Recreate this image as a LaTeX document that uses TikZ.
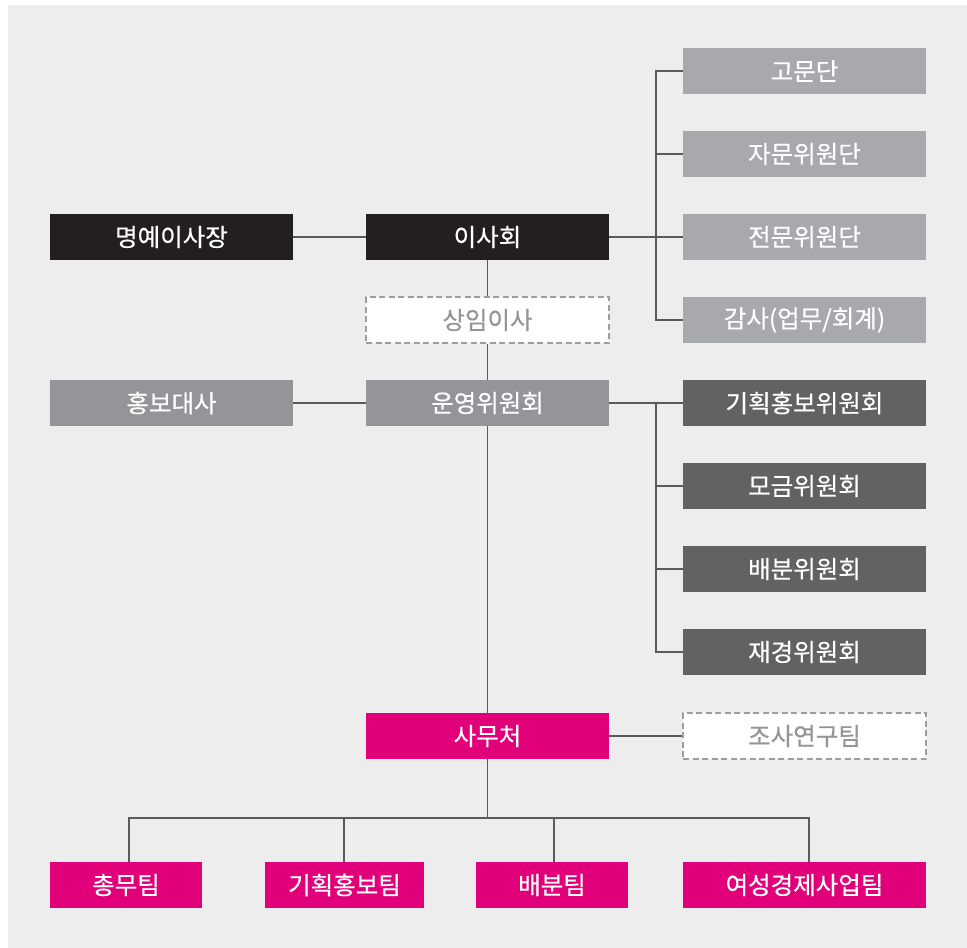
\documentclass[tikz,border=0pt]{standalone}
\usepackage{fontspec}
\newfontfamily\kr[FakeBold=0.5]{Noto Sans CJK KR}
\definecolor{bgc}{HTML}{EDEDED}
\definecolor{blk}{HTML}{231F20}
\definecolor{midg}{HTML}{939598}
\definecolor{ltg}{HTML}{A7A9AC}
\definecolor{dkg}{HTML}{626264}
\definecolor{mag}{HTML}{E2007A}
\definecolor{lnc}{HTML}{5A5A5A}
\definecolor{dsh}{HTML}{9D9D9D}
\pgfdeclarelayer{bglayer}
\pgfdeclarelayer{linelayer}
\pgfsetlayers{bglayer,linelayer,main}
\tikzset{
  x=1pt, y=-1pt,
  bx/.style={minimum width=243pt, minimum height=46pt, inner sep=0pt, text=white, font=\kr\fontsize{24.5}{26}\selectfont, anchor=center},
  blkbox/.style={bx, fill=blk},
  midbox/.style={bx, fill=midg},
  ltbox/.style={bx, fill=ltg},
  dkbox/.style={bx, fill=dkg},
  magbox/.style={bx, fill=mag},
  dshbox/.style={bx, fill=white, draw=dsh, line width=1.4pt, dash pattern=on 6pt off 3.5pt, text=midg},
  conn/.style={draw=lnc, line width=1.2pt},
}
\begin{document}
\begin{tikzpicture}
\useasboundingbox (0,0) rectangle (967,948);
\begin{pgfonlayer}{bglayer}
\fill[bgc] (8,5) rectangle (967,948);
\end{pgfonlayer}

\coordinate (rb1) at (656,71);
\coordinate (rb2) at (656,320);
\coordinate (rc1) at (656,403);
\coordinate (rc2) at (656,652);
\coordinate (bus0) at (487.5,818);
\coordinate (bus1) at (129,818);
\coordinate (bus2) at (344,818);
\coordinate (bus3) at (554,818);
\coordinate (bus4) at (809,818);

% boxes
\node[blkbox] (mye) at (171.5,237) {명예이사장};
\node[blkbox] (isa) at (487.5,237) {이사회};
\node[dshbox] (sang) at (487.5,320) {상임이사};
\node[midbox] (hong) at (171.5,403) {홍보대사};
\node[midbox] (un) at (487.5,403) {운영위원회};

\node[ltbox] (gm) at (804.5,71) {고문단};
\node[ltbox] (jm) at (804.5,154) {자문위원단};
\node[ltbox] (jn) at (804.5,237) {전문위원단};
\node[ltbox] (gs) at (804.5,320) {감사(업무/회계)};

\node[dkbox] (gh) at (804.5,403) {기획홍보위원회};
\node[dkbox] (mg) at (804.5,486) {모금위원회};
\node[dkbox] (bb) at (804.5,569) {배분위원회};
\node[dkbox] (jg) at (804.5,652) {재경위원회};

\node[magbox] (sam) at (487.5,736) {사무처};
\node[dshbox] (jo) at (804.5,736) {조사연구팀};

\node[magbox, minimum width=152pt] (t1) at (126,885) {총무팀};
\node[magbox, minimum width=159pt] (t2) at (344.5,885) {기획홍보팀};
\node[magbox, minimum width=152pt] (t3) at (552,885) {배분팀};
\node[magbox] (t4) at (804.5,885) {여성경제사업팀};

\begin{pgfonlayer}{linelayer}
\draw[conn] (mye.east) -- (isa.west);
\draw[conn] (hong.east) -- (un.west);
\draw[conn] (isa.south) -- (sang.north);
\draw[conn] (sang.south) -- (un.north);
\draw[conn] (un.south) -- (sam.north);

\draw[conn] (isa.east) -- (jn.west);
\draw[conn] (gm.west) -- (rb1) -- (rb2) -- (gs.west);
\draw[conn] (jm.west) -- (jm.west -| rb1);

\draw[conn] (un.east) -- (gh.west);
\draw[conn] (rc1) -- (rc2) -- (jg.west);
\draw[conn] (mg.west) -- (mg.west -| rc1);
\draw[conn] (bb.west) -- (bb.west -| rc1);

\draw[conn] (sam.east) -- (jo.west);
\draw[conn] (sam.south) -- (bus0);
\draw[conn] (bus1 |- t1.north) -- (bus1) -- (bus4) -- (bus4 |- t4.north);
\draw[conn] (bus2) -- (bus2 |- t2.north);
\draw[conn] (bus3) -- (bus3 |- t3.north);
\end{pgfonlayer}
\end{tikzpicture}
\end{document}
